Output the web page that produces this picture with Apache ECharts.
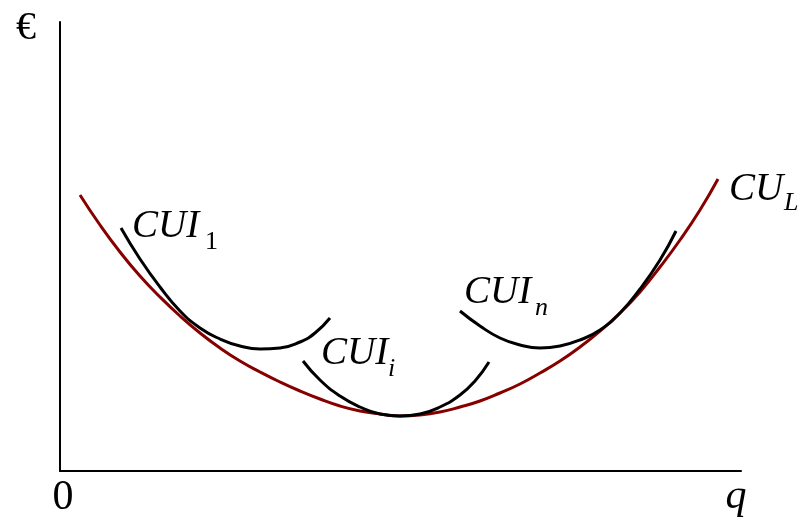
<!DOCTYPE html>
<html>
<head>
<meta charset="utf-8">
<script src="https://cdn.jsdelivr.net/npm/echarts@6/dist/echarts.min.js"></script>
<style>html,body{margin:0;padding:0;background:#fff}#c{width:805px;height:522px}</style>
</head>
<body>
<div id="c"></div>
<script>
// Long-run average cost curve CU_L (q, cost in arbitrary chart units)
const cuLX = [20, 40, 60, 80, 100, 120, 140, 160, 180, 200, 220, 240, 260, 280, 300, 320, 340, 360, 380, 400, 420, 440, 460, 480, 500, 520, 540, 560, 580, 600, 620, 640, 658];
const cuLY = [276, 246, 219, 195, 174, 155, 138, 123, 110, 99, 89, 80, 72, 65, 60, 57, 55, 56, 59, 64, 70, 78, 87, 98, 110, 124, 140, 158, 179, 204, 231, 261, 292];
// Short-run curve CUI_1
const cui1X = [61, 80, 100, 120, 140, 160, 180, 200, 220, 240, 255, 270];
const cui1Y = [243, 212, 184, 160, 143, 132, 125, 122, 123, 129, 138, 153];
// Short-run curve CUI_i
const cuiiX = [243, 260, 280, 300, 320, 340, 360, 380, 400, 415, 429];
const cuiiY = [110, 91, 75, 64, 57, 55, 57, 64, 76, 90, 109];
// Short-run curve CUI_n
const cuinX = [400, 420, 440, 460, 480, 500, 520, 540, 560, 580, 600, 616];
const cuinY = [160, 145, 133, 126, 123, 125, 131, 141, 158, 182, 211, 240];

const pairs = (xs, ys) => xs.map((x, i) => [x, ys[i]]);
const serif = "'Liberation Serif', 'Times New Roman', Times, serif";

function lbl(main, sub, x, y, subX, subY) {
  return {
    type: 'group',
    children: [
      { type: 'text', style: { text: main, x: x, y: y, fontFamily: serif, fontStyle: 'italic', fontSize: 39, fill: '#000', align: 'left', verticalAlign: 'middle' } },
      { type: 'text', style: { text: sub, x: subX, y: subY, fontFamily: serif, fontStyle: (sub === '1' ? 'normal' : 'italic'), fontSize: 26, fill: '#000', align: 'left', verticalAlign: 'middle' } }
    ]
  };
}

const chart = echarts.init(document.getElementById('c'));
const xAxisCfg = {
  type: 'value', min: 0, max: 681,
  axisLine: { show: true, lineStyle: { color: '#000', width: 2 } },
  axisTick: { show: false }, axisLabel: { show: false }, splitLine: { show: false }
};
const yAxisCfg = Object.assign({}, xAxisCfg, { max: 449 });
const lineSeries = (data, color) => ({
  type: 'line', data: data, smooth: 0.5, showSymbol: false, symbol: 'none',
  lineStyle: { color: color, width: 3 }, animation: false, silent: true
});
chart.setOption({
  animation: false,
  grid: { left: 60, right: 64, top: 22, bottom: 51 },
  xAxis: xAxisCfg,
  yAxis: yAxisCfg,
  series: [
    lineSeries(pairs(cuLX, cuLY), '#870000'),
    lineSeries(pairs(cui1X, cui1Y), '#000'),
    lineSeries(pairs(cuiiX, cuiiY), '#000'),
    lineSeries(pairs(cuinX, cuinY), '#000')
  ],
  graphic: [
    { type: 'text', style: { text: '€', x: 16, y: 28, fontFamily: serif, fontSize: 40, fill: '#000', align: 'left', verticalAlign: 'middle' } },
    { type: 'text', style: { text: '0', x: 63, y: 498, fontFamily: serif, fontSize: 42, fill: '#000', align: 'center', verticalAlign: 'middle' } },
    { type: 'text', style: { text: 'q', x: 736, y: 497, fontFamily: serif, fontStyle: 'italic', fontSize: 42, fill: '#000', align: 'center', verticalAlign: 'middle' } },
    lbl('CUI', '1', 132, 227, 205, 242),
    lbl('CUI', 'i', 321, 354, 388, 369),
    lbl('CUI', 'n', 464, 293, 535, 308),
    lbl('CU', 'L', 729, 190, 784, 203)
  ]
});
</script>
</body>
</html>
